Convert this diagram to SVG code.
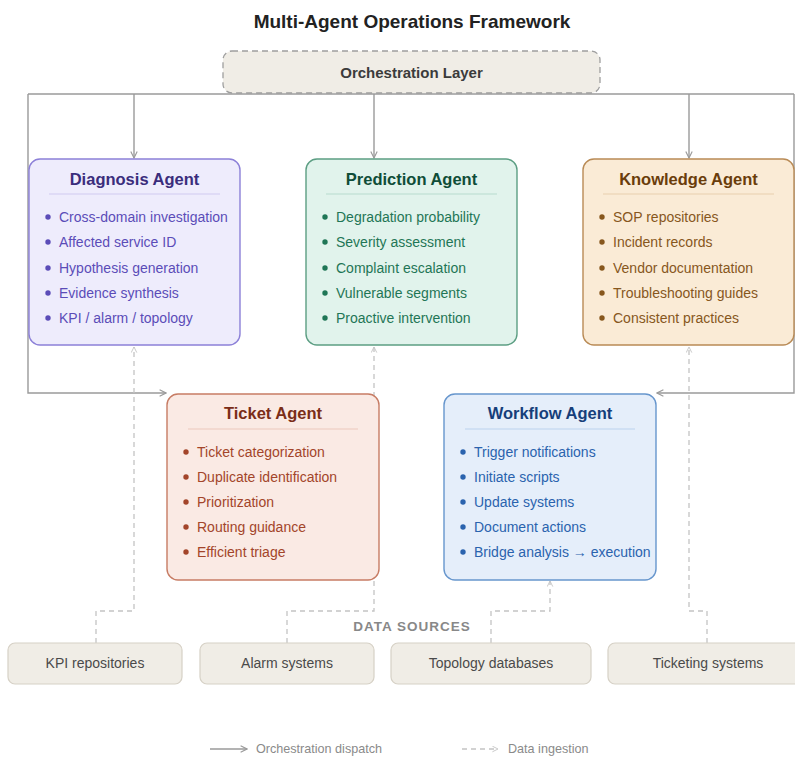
<svg xmlns="http://www.w3.org/2000/svg" width="795" height="757" viewBox="0 0 795 757">
  <style>
    text { font-family: "Liberation Sans", Arial, sans-serif; }
    .title { font-size: 19px; font-weight: bold; fill: #222; text-anchor: middle; }
    .orch { fill: #f0ede6; stroke: #9e9e9e; stroke-width: 1.3; stroke-dasharray: 6 4; }
    .orch-t { font-size: 15px; font-weight: bold; fill: #3b3b3b; text-anchor: middle; }
    .head { font-size: 16.5px; font-weight: bold; text-anchor: middle; }
    .item { font-size: 14px; }
    .dispatch { fill: none; stroke: #9a9a9a; stroke-width: 1.4; }
    .ingest { fill: none; stroke: #c4c4c4; stroke-width: 1.3; stroke-dasharray: 5 4; }
    .src { fill: #f0ede6; stroke: #d6d1c6; stroke-width: 1.2; }
    .src-t { font-size: 14px; fill: #4a4a4a; text-anchor: middle; }
    .section { font-size: 13.5px; font-weight: bold; fill: #888; text-anchor: middle; letter-spacing: 1px; }
    .legend { font-size: 12.6px; fill: #8a8a8a; }
    .diag rect { fill: #eeecfc; stroke: #8c80d8; }
    .diag .head { fill: #3a2d7c; }
    .diag .item { fill: #5b4cb8; }
    .diag circle { fill: #5b4cb8; }
    .diag line { stroke: #cfc9f0; }
    .pred rect { fill: #e1f3ec; stroke: #5c9e83; }
    .pred .head { fill: #0f4d38; }
    .pred .item { fill: #1f7656; }
    .pred circle { fill: #1f7656; }
    .pred line { stroke: #b8dccd; }
    .know rect { fill: #faebd6; stroke: #b98b56; }
    .know .head { fill: #6a3d0b; }
    .know .item { fill: #87571d; }
    .know circle { fill: #87571d; }
    .know line { stroke: #e8d0ae; }
    .tick rect { fill: #faeae4; stroke: #c77c64; }
    .tick .head { fill: #7a2d18; }
    .tick .item { fill: #a3452a; }
    .tick circle { fill: #a3452a; }
    .tick line { stroke: #ecc8bb; }
    .work rect { fill: #e5eefa; stroke: #6796cd; }
    .work .head { fill: #163e7a; }
    .work .item { fill: #2a63ae; }
    .work circle { fill: #2a63ae; }
    .work line { stroke: #bcd2ee; }
    .agent rect { stroke-width: 1.4; }
    .agent line { stroke-width: 1.2; }
  </style>
  <defs>
    <marker id="arr" viewBox="0 0 10 10" refX="9" refY="5" markerWidth="8" markerHeight="8" markerUnits="userSpaceOnUse" orient="auto">
      <path d="M1,1 L9,5 L1,9" fill="none" stroke="#9a9a9a" stroke-width="1.4"/>
    </marker>
    <marker id="arr-light" viewBox="0 0 10 10" refX="9" refY="5" markerWidth="7" markerHeight="7" markerUnits="userSpaceOnUse" orient="auto">
      <path d="M1,1 L9,5 L1,9" fill="none" stroke="#c4c4c4" stroke-width="1.3"/>
    </marker>
  </defs>

  <text class="title" x="412" y="28">Multi-Agent Operations Framework</text>

  <!-- connectors -->
  <g id="connectors">
    <!-- orchestration dispatch -->
    <path class="dispatch" d="M28,94 H794"/>
    <path class="dispatch" d="M134,94 V158" marker-end="url(#arr)"/>
    <path class="dispatch" d="M374,94 V158" marker-end="url(#arr)"/>
    <path class="dispatch" d="M689,94 V158" marker-end="url(#arr)"/>
    <path class="dispatch" d="M28,94 V393 H166" marker-end="url(#arr)"/>
    <path class="dispatch" d="M794,94 V393 H657" marker-end="url(#arr)"/>
    <!-- data ingestion -->
    <path class="ingest" d="M96,643 V611 H134 V347" marker-end="url(#arr-light)"/>
    <path class="ingest" d="M287,643 V611 H374 V347" marker-end="url(#arr-light)"/>
    <path class="ingest" d="M491,643 V611 H550 V581" marker-end="url(#arr-light)"/>
    <path class="ingest" d="M707,643 V611 H689 V347" marker-end="url(#arr-light)"/>
  </g>

  <g id="orchestration">
    <rect class="orch" x="223" y="51" width="377" height="42" rx="9"/>
    <text class="orch-t" x="411.5" y="78">Orchestration Layer</text>
  </g>

  <g id="diagnosis-agent" class="agent diag">
    <rect x="29" y="159" width="211" height="186" rx="11"/>
    <text class="head" x="134.5" y="185">Diagnosis Agent</text>
    <line x1="49" y1="194" x2="220" y2="194"/>
    <circle cx="48" cy="217" r="2.7"/><text class="item" x="59" y="222">Cross-domain investigation</text>
    <circle cx="48" cy="242" r="2.7"/><text class="item" x="59" y="247">Affected service ID</text>
    <circle cx="48" cy="268" r="2.7"/><text class="item" x="59" y="273">Hypothesis generation</text>
    <circle cx="48" cy="293" r="2.7"/><text class="item" x="59" y="298">Evidence synthesis</text>
    <circle cx="48" cy="318" r="2.7"/><text class="item" x="59" y="323">KPI / alarm / topology</text>
  </g>

  <g id="prediction-agent" class="agent pred">
    <rect x="306" y="159" width="211" height="186" rx="11"/>
    <text class="head" x="411.5" y="185">Prediction Agent</text>
    <line x1="326" y1="194" x2="497" y2="194"/>
    <circle cx="325" cy="217" r="2.7"/><text class="item" x="336" y="222">Degradation probability</text>
    <circle cx="325" cy="242" r="2.7"/><text class="item" x="336" y="247">Severity assessment</text>
    <circle cx="325" cy="268" r="2.7"/><text class="item" x="336" y="273">Complaint escalation</text>
    <circle cx="325" cy="293" r="2.7"/><text class="item" x="336" y="298">Vulnerable segments</text>
    <circle cx="325" cy="318" r="2.7"/><text class="item" x="336" y="323">Proactive intervention</text>
  </g>

  <g id="knowledge-agent" class="agent know">
    <rect x="583" y="159" width="211" height="186" rx="11"/>
    <text class="head" x="688.5" y="185">Knowledge Agent</text>
    <line x1="603" y1="194" x2="774" y2="194"/>
    <circle cx="602" cy="217" r="2.7"/><text class="item" x="613" y="222">SOP repositories</text>
    <circle cx="602" cy="242" r="2.7"/><text class="item" x="613" y="247">Incident records</text>
    <circle cx="602" cy="268" r="2.7"/><text class="item" x="613" y="273">Vendor documentation</text>
    <circle cx="602" cy="293" r="2.7"/><text class="item" x="613" y="298">Troubleshooting guides</text>
    <circle cx="602" cy="318" r="2.7"/><text class="item" x="613" y="323">Consistent practices</text>
  </g>

  <g id="ticket-agent" class="agent tick">
    <rect x="167" y="394" width="212" height="186" rx="11"/>
    <text class="head" x="273" y="419">Ticket Agent</text>
    <line x1="188" y1="429" x2="358" y2="429"/>
    <circle cx="186" cy="452" r="2.7"/><text class="item" x="197" y="457">Ticket categorization</text>
    <circle cx="186" cy="477" r="2.7"/><text class="item" x="197" y="482">Duplicate identification</text>
    <circle cx="186" cy="502" r="2.7"/><text class="item" x="197" y="507">Prioritization</text>
    <circle cx="186" cy="527" r="2.7"/><text class="item" x="197" y="532">Routing guidance</text>
    <circle cx="186" cy="552" r="2.7"/><text class="item" x="197" y="557">Efficient triage</text>
  </g>

  <g id="workflow-agent" class="agent work">
    <rect x="444" y="394" width="212" height="186" rx="11"/>
    <text class="head" x="550" y="419">Workflow Agent</text>
    <line x1="465" y1="429" x2="635" y2="429"/>
    <circle cx="463" cy="452" r="2.7"/><text class="item" x="474" y="457">Trigger notifications</text>
    <circle cx="463" cy="477" r="2.7"/><text class="item" x="474" y="482">Initiate scripts</text>
    <circle cx="463" cy="502" r="2.7"/><text class="item" x="474" y="507">Update systems</text>
    <circle cx="463" cy="527" r="2.7"/><text class="item" x="474" y="532">Document actions</text>
    <circle cx="463" cy="552" r="2.7"/><text class="item" x="474" y="557">Bridge analysis → execution</text>
  </g>

  <text class="section" x="412" y="631">DATA SOURCES</text>

  <g id="kpi-repositories">
    <rect class="src" x="8" y="643" width="174" height="41" rx="7"/>
    <text class="src-t" x="95" y="668">KPI repositories</text>
  </g>
  <g id="alarm-systems">
    <rect class="src" x="200" y="643" width="174" height="41" rx="7"/>
    <text class="src-t" x="287" y="668">Alarm systems</text>
  </g>
  <g id="topology-databases">
    <rect class="src" x="391" y="643" width="200" height="41" rx="7"/>
    <text class="src-t" x="491" y="668">Topology databases</text>
  </g>
  <g id="ticketing-systems">
    <rect class="src" x="608" y="643" width="200" height="41" rx="7"/>
    <text class="src-t" x="708" y="668">Ticketing systems</text>
  </g>

  <!-- legend -->
  <g id="legend">
    <path class="dispatch" d="M210,749 H247" marker-end="url(#arr)"/>
    <text class="legend" x="256" y="753">Orchestration dispatch</text>
    <path class="ingest" d="M462,749 H498" marker-end="url(#arr-light)"/>
    <text class="legend" x="508" y="753">Data ingestion</text>
  </g>
</svg>
